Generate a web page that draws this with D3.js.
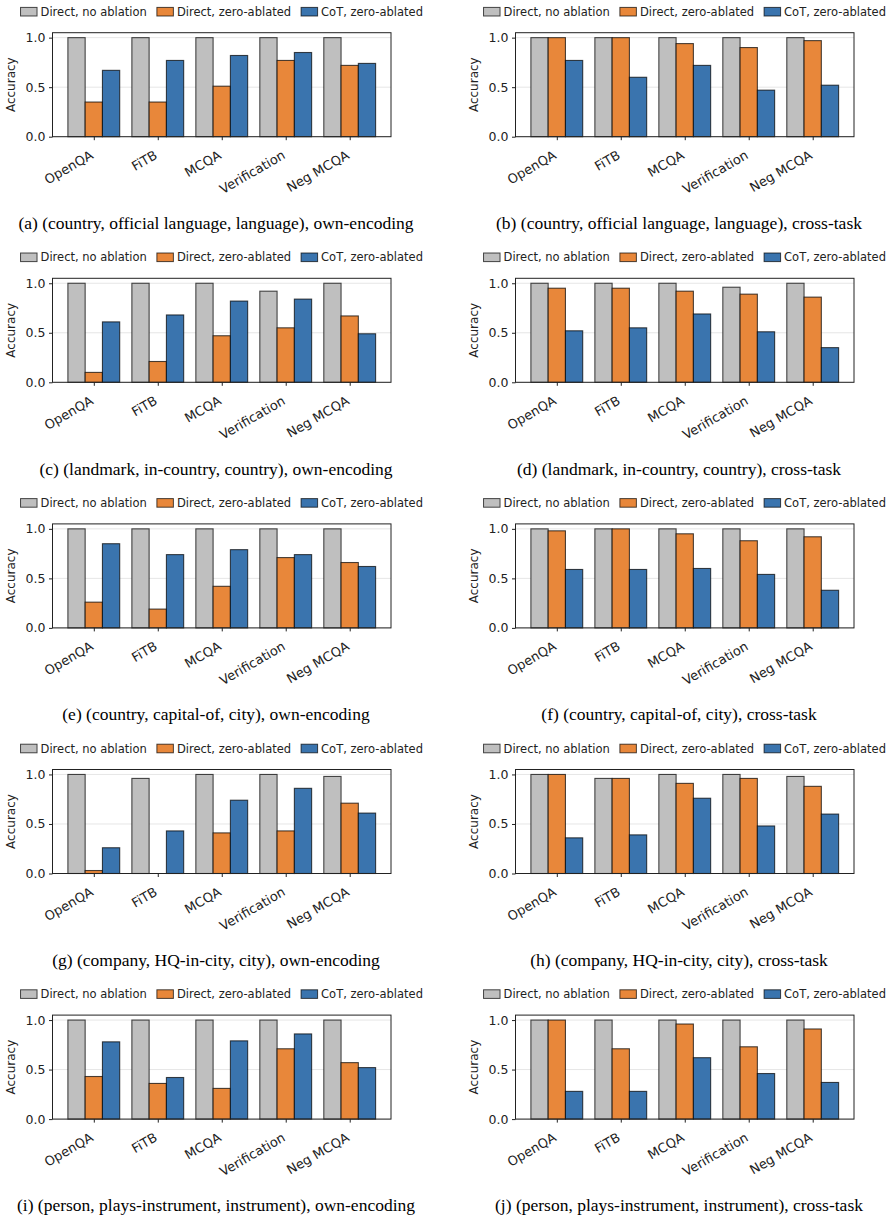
<!DOCTYPE html>
<html>
<head>
<meta charset="utf-8">
<script src="https://cdn.jsdelivr.net/npm/d3@7"></script>
<style>
  body { margin: 0; background: #fff; }
  svg { display: block; }
</style>
</head>
<body>
<svg id="chart"></svg>
<script>
// categories and series
var categories = ["OpenQA", "FiTB", "MCQA", "Verification", "Neg MCQA"];
var seriesNames = ["Direct, no ablation", "Direct, zero-ablated", "CoT, zero-ablated"];
var yTicks = [0.0, 0.5, 1.0];

var captions = [
    "(a) (country, official language, language), own-encoding",
    "(b) (country, official language, language), cross-task",
    "(c) (landmark, in-country, country), own-encoding",
    "(d) (landmark, in-country, country), cross-task",
    "(e) (country, capital-of, city), own-encoding",
    "(f) (country, capital-of, city), cross-task",
    "(g) (company, HQ-in-city, city), own-encoding",
    "(h) (company, HQ-in-city, city), cross-task",
    "(i) (person, plays-instrument, instrument), own-encoding",
    "(j) (person, plays-instrument, instrument), cross-task"
];

// one row per panel (a..j), one value per category
var noAblation = [
    [1.00, 1.00, 1.00, 1.00, 1.00],
    [1.00, 1.00, 1.00, 1.00, 1.00],
    [1.00, 1.00, 1.00, 0.92, 1.00],
    [1.00, 1.00, 1.00, 0.96, 1.00],
    [1.00, 1.00, 1.00, 1.00, 1.00],
    [1.00, 1.00, 1.00, 1.00, 1.00],
    [1.00, 0.96, 1.00, 1.00, 0.98],
    [1.00, 0.96, 1.00, 1.00, 0.98],
    [1.00, 1.00, 1.00, 1.00, 1.00],
    [1.00, 1.00, 1.00, 1.00, 1.00]
];
var directZeroAblated = [
    [0.35, 0.35, 0.51, 0.77, 0.72],
    [1.00, 1.00, 0.94, 0.90, 0.97],
    [0.10, 0.21, 0.47, 0.55, 0.67],
    [0.95, 0.95, 0.92, 0.89, 0.86],
    [0.26, 0.19, 0.42, 0.71, 0.66],
    [0.98, 1.00, 0.95, 0.88, 0.92],
    [0.03, 0.00, 0.41, 0.43, 0.71],
    [1.00, 0.96, 0.91, 0.96, 0.88],
    [0.43, 0.36, 0.31, 0.71, 0.57],
    [1.00, 0.71, 0.96, 0.73, 0.91]
];
var cotZeroAblated = [
    [0.67, 0.77, 0.82, 0.85, 0.74],
    [0.77, 0.60, 0.72, 0.47, 0.52],
    [0.61, 0.68, 0.82, 0.84, 0.49],
    [0.52, 0.55, 0.69, 0.51, 0.35],
    [0.85, 0.74, 0.79, 0.74, 0.62],
    [0.59, 0.59, 0.60, 0.54, 0.38],
    [0.26, 0.43, 0.74, 0.86, 0.61],
    [0.36, 0.39, 0.76, 0.48, 0.60],
    [0.78, 0.42, 0.79, 0.86, 0.52],
    [0.28, 0.28, 0.62, 0.46, 0.37]
];

var colors = ["#bfbfbf", "#e8873a", "#3a74ae"];

var W = 892, H = 1222;
var colOffset = 463, rowStep = 245.6;
var dims = { left: 52.5, right: 391, top: 32.7, bottom: 136.7 };
var barWidth = 0.27;
var font = "'DejaVu Sans', sans-serif";

var svg = d3.select("#chart")
    .attr("width", W)
    .attr("height", H)
    .style("font-family", font);

svg.append("rect").attr("width", W).attr("height", H).attr("fill", "#fff");

var xScale = d3.scaleLinear()
    .domain([-0.6455, 4.6455])
    .range([dims.left, dims.right]);

var yScale = d3.scaleLinear()
    .domain([0, 1.05])
    .range([dims.bottom, dims.top]);

captions.forEach(function(caption, p) {
    var col = p % 2, row = Math.floor(p / 2);
    var g = svg.append("g")
        .attr("transform", "translate(" + (col * colOffset) + "," + (row * rowStep) + ")");

    var series = [noAblation[p], directZeroAblated[p], cotZeroAblated[p]];

    // grid
    g.append("g").selectAll("line")
        .data(yTicks)
        .enter()
        .append("line")
        .attr("x1", dims.left).attr("x2", dims.right)
        .attr("y1", function(d) { return yScale(d); })
        .attr("y2", function(d) { return yScale(d); })
        .attr("stroke", "#e6e6e6")
        .attr("stroke-width", 1);

    // bars
    series.forEach(function(vals, s) {
        g.append("g")
            .attr("fill", colors[s])
            .selectAll("rect")
            .data(vals)
            .enter()
            .append("rect")
            .attr("x", function(d, i) { return xScale(i + (s - 1) * barWidth - barWidth / 2); })
            .attr("width", xScale(barWidth) - xScale(0))
            .attr("y", function(d) { return yScale(d); })
            .attr("height", function(d) { return yScale(0) - yScale(d); })
            .attr("stroke", "#000")
            .attr("stroke-opacity", 0.7)
            .attr("stroke-width", 1.1);
    });

    // frame
    g.append("rect")
        .attr("x", dims.left).attr("y", dims.top)
        .attr("width", dims.right - dims.left)
        .attr("height", dims.bottom - dims.top)
        .attr("fill", "none")
        .attr("stroke", "#222")
        .attr("stroke-width", 1);

    // y axis
    var yAxis = d3.axisLeft(yScale)
        .tickValues(yTicks)
        .tickFormat(d3.format(".1f"))
        .tickSize(3.5)
        .tickPadding(3.5);
    var ya = g.append("g")
        .attr("transform", "translate(" + dims.left + ",0)")
        .call(yAxis);
    ya.select(".domain").remove();
    ya.selectAll("line").attr("stroke", "#222");
    ya.selectAll("text")
        .attr("fill", "#222")
        .style("font-family", font)
        .style("font-size", "12.5px");

    // x axis, labels rotated 30 degrees
    var xAxis = d3.axisBottom(xScale)
        .tickValues(d3.range(categories.length))
        .tickFormat(function(i) { return categories[i]; })
        .tickSize(3.5);
    var xa = g.append("g")
        .attr("transform", "translate(0," + dims.bottom + ")")
        .call(xAxis);
    xa.select(".domain").remove();
    xa.selectAll("line").attr("stroke", "#222");
    xa.selectAll("text")
        .attr("fill", "#222")
        .style("font-family", font)
        .style("font-size", "13px")
        .attr("text-anchor", "end")
        .attr("x", 0)
        .attr("y", 21)
        .attr("dy", null)
        .attr("transform", "rotate(-30,0,21)");

    g.append("text")
        .attr("transform", "translate(15," + ((dims.top + dims.bottom) / 2) + ") rotate(-90)")
        .attr("text-anchor", "middle")
        .attr("fill", "#222")
        .style("font-size", "12px")
        .text("Accuracy");

    // legend
    var legY = 11.7;
    var leg = g.append("g");
    var items = leg.selectAll("g")
        .data(seriesNames)
        .enter()
        .append("g");
    items.append("rect")
        .attr("y", legY - 4.3)
        .attr("width", 16.5)
        .attr("height", 8.6)
        .attr("fill", function(d, i) { return colors[i]; })
        .attr("stroke", "#000")
        .attr("stroke-opacity", 0.7)
        .attr("stroke-width", 1);
    items.append("text")
        .attr("x", 20)
        .attr("y", legY + 4.2)
        .attr("fill", "#222")
        .style("font-size", "11.5px")
        .text(function(d) { return d; });
    var xpos = 0;
    items.each(function() {
        var w = d3.select(this).select("text").node().getComputedTextLength();
        d3.select(this).attr("transform", "translate(" + xpos + ",0)");
        xpos += 20 + w + 10;
    });
    var legW = xpos - 10;
    leg.attr("transform", "translate(" + ((dims.left + dims.right) / 2 - legW / 2) + ",0)");

    // caption
    g.append("text")
        .attr("x", 216)
        .attr("y", 229)
        .attr("text-anchor", "middle")
        .attr("fill", "#000")
        .style("font-family", "'Liberation Serif', 'Times New Roman', serif")
        .style("font-size", "17.5px")
        .text(caption);
});
</script>
</body>
</html>
